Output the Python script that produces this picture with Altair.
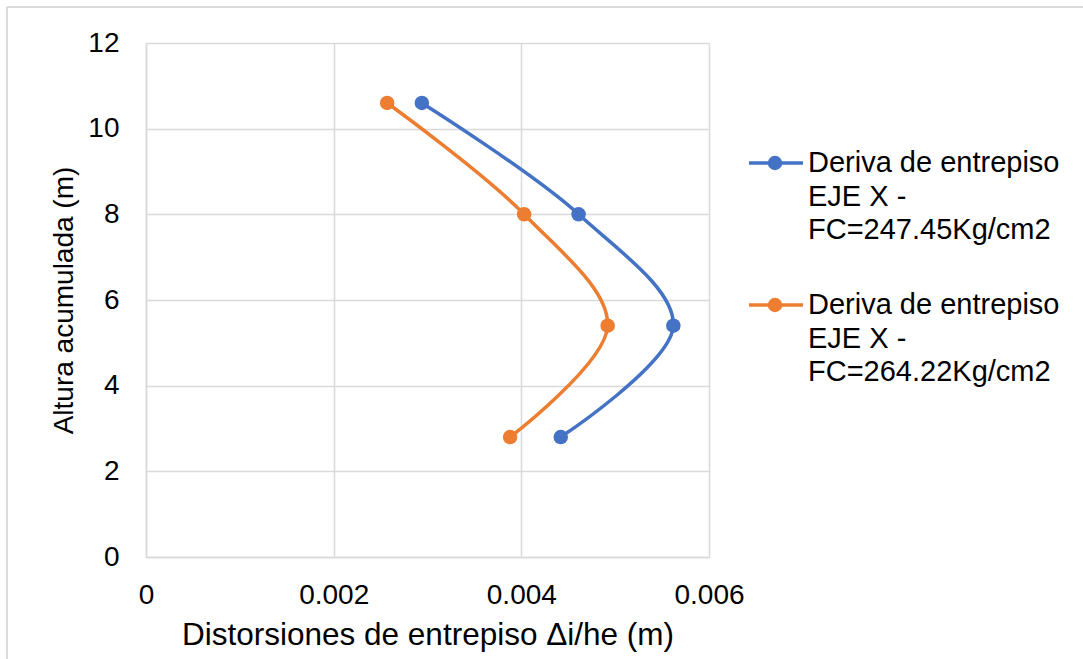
import altair as alt
import pandas as pd

# ---- data ----
series_names = [
    "Deriva de entrepiso EJE X - FC=247.45Kg/cm2",
    "Deriva de entrepiso EJE X - FC=264.22Kg/cm2",
]
legend_lines = [
    ["Deriva de entrepiso", "EJE X -", "FC=247.45Kg/cm2"],
    ["Deriva de entrepiso", "EJE X -", "FC=264.22Kg/cm2"],
]
altura = [10.6, 8.0, 5.4, 2.8]
deriva_247 = [0.00294, 0.00461, 0.00562, 0.00442]
deriva_264 = [0.00257, 0.00403, 0.00492, 0.00388]
colors = ["#4472C4", "#ED7D31"]
x_ticks = [0, 0.002, 0.004, 0.006]
y_ticks = [0, 2, 4, 6, 8, 10, 12]

rows = []
for name, vals in zip(series_names, [deriva_247, deriva_264]):
    for i, (xv, yv) in enumerate(zip(vals, altura)):
        rows.append({"series": name, "deriva": xv, "altura": yv, "idx": i})
df = pd.DataFrame(rows)
leg = pd.DataFrame({"series": series_names, "lines": legend_lines})

FONT = "Liberation Sans"
GRID = "#D9D9D9"

color = alt.Color("series:N", scale=alt.Scale(domain=series_names, range=colors), legend=None)

x = alt.X(
    "deriva:Q",
    scale=alt.Scale(domain=[0, 0.006], nice=False),
    axis=alt.Axis(
        values=x_ticks, format="~g", title="Distorsiones de entrepiso Δi/he (m)",
        grid=True, gridColor=GRID, gridWidth=1.5, domainColor=GRID, domainWidth=1.5,
        ticks=False, labelFlush=False, labelPadding=24, labelFontSize=28,
        titleFontSize=31.5, titlePadding=10, labelFont=FONT, titleFont=FONT,
        labelColor="#000000", titleColor="#000000", titleFontWeight="normal",
    ),
)
y = alt.Y(
    "altura:Q",
    scale=alt.Scale(domain=[0, 12], nice=False),
    axis=alt.Axis(
        values=y_ticks, title="Altura acumulada (m)",
        grid=True, gridColor=GRID, gridWidth=1.5, domainColor=GRID, domainWidth=1.5,
        ticks=False, labelFlush=False, labelPadding=27, labelFontSize=28,
        titleFontSize=28, titlePadding=9, labelFont=FONT, titleFont=FONT,
        labelColor="#000000", titleColor="#000000", titleFontWeight="normal",
    ),
)

base = alt.Chart(df)
lines = base.mark_line(interpolate="catmull-rom", strokeWidth=3.5).encode(
    x=x, y=y, color=color, order=alt.Order("idx:Q")
)
points = base.mark_point(filled=True, size=210, opacity=1, shape="circle").encode(
    x=x, y=y, color=color
)
main = alt.layer(lines, points)

ly = alt.Y(
    "series:N",
    scale=alt.Scale(type="point", domain=series_names, range=[120, 262], padding=0),
    axis=None,
)
lbase = alt.Chart(leg)
leg_rule = lbase.mark_rule(strokeWidth=3.5).encode(
    x=alt.value(603), x2=alt.value(657), y=ly, color=color
)
leg_point = lbase.mark_point(filled=True, size=210, opacity=1, shape="circle").encode(
    x=alt.value(629), y=ly, color=color
)
leg_text = lbase.mark_text(
    align="left", baseline="alphabetic", dy=9, fontSize=29, lineHeight=33.5,
    font=FONT, color="#000000",
).encode(x=alt.value(662), y=ly, text="lines:N")
legend_layer = alt.layer(leg_rule, leg_point, leg_text)

# outer light border of the chart frame
frame_top = alt.Chart(leg).mark_rule(color=GRID, strokeWidth=1.5).encode(
    x=alt.value(-139), x2=alt.value(940), y=alt.value(-36)
)
frame_left = alt.Chart(leg).mark_rule(color=GRID, strokeWidth=1.5).encode(
    x=alt.value(-139), y=alt.value(-36), y2=alt.value(620)
)
frame = alt.layer(frame_top, frame_left)

chart = alt.layer(frame, main, legend_layer).resolve_scale(y="independent").properties(
    width=563, height=514,
    autosize=alt.AutoSizeParams(type="none"),
    padding={"left": 146, "top": 43, "right": 374, "bottom": 102},
    background="#FFFFFF",
).configure_view(stroke=None)

chart.save("out.html", embed_options={"renderer": "svg", "actions": False})
